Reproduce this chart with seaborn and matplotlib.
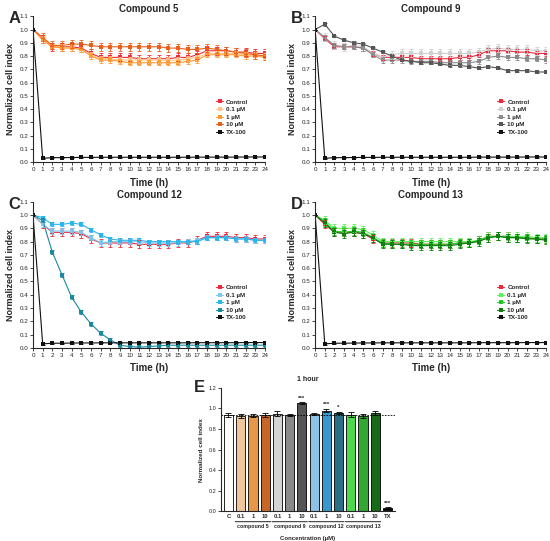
"""Normalized cell index over time for four compounds plus 1 h bar summary."""
import numpy as np
import pandas as pd
import seaborn as sns

from matplotlib import pyplot as plt


HOURS = list(range(25))
SERIES = ["Control", "0.1 \u00b5M", "1 \u00b5M", "10 \u00b5M", "TX-100"]

CONTROL = [1.0, 0.93, 0.87, 0.87, 0.87, 0.86, 0.82, 0.79, 0.79, 0.79, 0.79, 0.78, 0.78,
           0.78, 0.78, 0.79, 0.79, 0.81, 0.84, 0.84, 0.84, 0.83, 0.83, 0.82, 0.82]
TX100 = [1.0, 0.03, 0.035, 0.035, 0.036, 0.037, 0.037, 0.038, 0.038, 0.038, 0.038, 0.038, 0.038,
         0.038, 0.038, 0.038, 0.038, 0.039, 0.039, 0.039, 0.039, 0.039, 0.04, 0.04, 0.04]

# compound 5
C5_01 = [1.0, 0.93, 0.87, 0.87, 0.86, 0.85, 0.81, 0.78, 0.78, 0.77, 0.77, 0.77, 0.77,
         0.77, 0.77, 0.77, 0.78, 0.79, 0.82, 0.82, 0.82, 0.82, 0.81, 0.81, 0.80]
C5_1 = [1.0, 0.92, 0.87, 0.86, 0.86, 0.85, 0.80, 0.77, 0.77, 0.76, 0.75, 0.75, 0.75,
        0.75, 0.75, 0.75, 0.76, 0.77, 0.81, 0.81, 0.81, 0.81, 0.80, 0.80, 0.79]
C5_10 = [1.0, 0.94, 0.88, 0.88, 0.89, 0.89, 0.88, 0.87, 0.87, 0.87, 0.87, 0.87, 0.87,
         0.87, 0.86, 0.86, 0.85, 0.85, 0.86, 0.85, 0.84, 0.83, 0.82, 0.81, 0.80]
# compound 9
C9_01 = [1.0, 0.94, 0.88, 0.87, 0.88, 0.87, 0.82, 0.79, 0.81, 0.82, 0.82, 0.82, 0.82,
         0.82, 0.82, 0.82, 0.82, 0.83, 0.85, 0.86, 0.85, 0.85, 0.85, 0.84, 0.84]
C9_1 = [1.0, 0.94, 0.88, 0.87, 0.87, 0.86, 0.81, 0.77, 0.77, 0.77, 0.76, 0.76, 0.76,
        0.75, 0.75, 0.75, 0.75, 0.76, 0.79, 0.80, 0.79, 0.79, 0.78, 0.78, 0.77]
C9_10 = [1.0, 1.04, 0.95, 0.92, 0.90, 0.89, 0.86, 0.83, 0.80, 0.77, 0.76, 0.75, 0.75,
         0.74, 0.73, 0.73, 0.72, 0.71, 0.72, 0.71, 0.69, 0.69, 0.69, 0.68, 0.68]
# compound 12
C12_01 = [1.0, 0.93, 0.88, 0.88, 0.88, 0.87, 0.83, 0.79, 0.80, 0.80, 0.80, 0.80, 0.79,
          0.79, 0.79, 0.79, 0.80, 0.81, 0.83, 0.83, 0.83, 0.82, 0.82, 0.81, 0.81]
C12_1 = [1.0, 0.98, 0.93, 0.93, 0.94, 0.93, 0.89, 0.85, 0.82, 0.81, 0.81, 0.81, 0.80,
         0.80, 0.80, 0.80, 0.80, 0.80, 0.83, 0.83, 0.83, 0.82, 0.82, 0.81, 0.81]
C12_10 = [1.0, 0.96, 0.72, 0.55, 0.38, 0.27, 0.18, 0.11, 0.06, 0.02, 0.01, 0.005, 0.01,
          0.015, 0.02, 0.02, 0.02, 0.02, 0.02, 0.02, 0.02, 0.02, 0.02, 0.02, 0.02]
# compound 13
C13_01 = [1.0, 0.96, 0.90, 0.90, 0.90, 0.89, 0.85, 0.80, 0.80, 0.80, 0.80, 0.80, 0.80,
          0.80, 0.80, 0.80, 0.80, 0.81, 0.84, 0.84, 0.84, 0.84, 0.84, 0.83, 0.83]
C13_1 = [1.0, 0.95, 0.88, 0.87, 0.88, 0.87, 0.83, 0.79, 0.78, 0.78, 0.78, 0.78, 0.78,
         0.78, 0.78, 0.79, 0.79, 0.81, 0.83, 0.84, 0.83, 0.83, 0.83, 0.82, 0.82]
C13_10 = [1.0, 0.94, 0.87, 0.86, 0.87, 0.86, 0.83, 0.78, 0.78, 0.78, 0.77, 0.77, 0.77,
          0.77, 0.77, 0.78, 0.79, 0.80, 0.83, 0.84, 0.83, 0.83, 0.82, 0.82, 0.81]

# typical SD per series (Control, 0.1, 1, 10, TX-100)
SD_5 = [0.03, 0.02, 0.02, 0.03, 0.005]
SD_9 = [0.02, 0.03, 0.02, 0.01, 0.005]
SD_12 = [0.03, 0.02, 0.015, 0.015, 0.005]
SD_13 = [0.03, 0.03, 0.03, 0.03, 0.005]

# bar panel (1 hour)
BAR_LABELS = ["C", "0.1", "1", "10", "0.1", "1", "10", "0.1", "1", "10",
              "0.1", "1", "10", "TX"]
BAR_VALUES = [0.935, 0.925, 0.93, 0.935, 0.95, 0.94, 1.05, 0.945, 0.98, 0.96,
              0.94, 0.93, 0.955, 0.03]
BAR_SD = [0.02, 0.02, 0.015, 0.02, 0.025, 0.01, 0.008, 0.01, 0.015, 0.01,
          0.025, 0.02, 0.02, 0.01]
BAR_STARS = ["", "", "", "", "", "", "***", "", "***", "*", "", "", "", "***"]
GROUPS = ["compound 5", "compound 9", "compound 12", "compound 13"]

PANELS = [
    ("A", "Compound 5", [CONTROL, C5_01, C5_1, C5_10, TX100], SD_5,
     ["#f0283c", "#ffc58a", "#ff9a2e", "#e8601a", "#111111"]),
    ("B", "Compound 9", [CONTROL, C9_01, C9_1, C9_10, TX100], SD_9,
     ["#f0283c", "#cfcfcf", "#8a8a8a", "#555555", "#111111"]),
    ("C", "Compound 12", [CONTROL, C12_01, C12_1, C12_10, TX100], SD_12,
     ["#f0283c", "#7fc8f0", "#29b6ef", "#1a8aa0", "#111111"]),
    ("D", "Compound 13", [CONTROL, C13_01, C13_1, C13_10, TX100], SD_13,
     ["#f0283c", "#5cf05c", "#22c822", "#0c7a0c", "#111111"]),
]
BAR_COLORS = ["#ffffff", "#ffc58a", "#ff9a2e", "#e0600f", "#d4d4d4", "#8a8a8a",
              "#555555", "#7fc3f5", "#1e9de8", "#1a7894", "#33f033", "#1fba1f",
              "#0b760b", "#111111"]

sns.set_style("ticks")
plt.rcParams["font.family"] = ["Liberation Sans", "DejaVu Sans"]
plt.rcParams["axes.linewidth"] = 0.8

fig = plt.figure(figsize=(5.5, 5.41), dpi=100)

positions = {
    "A": [0.06, 0.700, 0.422, 0.270],
    "B": [0.573, 0.700, 0.420, 0.270],
    "C": [0.06, 0.357, 0.422, 0.270],
    "D": [0.573, 0.357, 0.420, 0.270],
}

for letter, title, series, sds, colors in PANELS:
    ax = fig.add_axes(positions[letter])
    rows = []
    for name, vals in zip(SERIES, series):
        for t, v in zip(HOURS, vals):
            rows.append({"time": t, "value": v, "series": name})
    df = pd.DataFrame(rows)
    sns.lineplot(data=df, x="time", y="value", hue="series", palette=colors,
                 marker="s", markersize=2.2, markeredgewidth=0, linewidth=0.8,
                 ax=ax)
    for vals, sd, col in zip(series, sds, colors):
        err = [0.0] + [sd] * (len(vals) - 1)
        ax.errorbar(HOURS, vals, yerr=err, fmt="none", ecolor=col,
                    elinewidth=0.6, capsize=1.5, capthick=0.6)
    ax.set_xlim(0, 24)
    ax.set_ylim(0, 1.1)
    ax.set_xticks(HOURS)
    ax.set_yticks(np.arange(0, 1.11, 0.1))
    ax.set_yticklabels([f"{v:.1f}" for v in np.arange(0, 1.11, 0.1)])
    ax.tick_params(labelsize=4.5, length=2, width=0.6, pad=1.5)
    ax.set_xlabel("Time (h)", fontsize=7, fontweight="bold", labelpad=4)
    ax.set_ylabel("Normalized cell index", fontsize=6.5, fontweight="bold",
                  labelpad=3)
    ax.set_title(title, fontsize=7, fontweight="bold", pad=3)
    ax.legend(loc="center left", bbox_to_anchor=(0.765, 0.31), frameon=False,
              handlelength=1.1, handletextpad=0.5,
              labelspacing=0.35, prop={"size": 4.5, "weight": "bold"})
    sns.despine(ax=ax)
    bb = positions[letter]
    fig.text(bb[0] - 0.045, bb[1] + bb[3] - 0.005, letter, fontsize=12,
             fontweight="bold", ha="left", va="center")

# panel E
axe = fig.add_axes([0.402, 0.055, 0.316, 0.228])
bar_df = pd.DataFrame({"pos": range(len(BAR_VALUES)), "value": BAR_VALUES})
sns.barplot(data=bar_df, x="pos", y="value", hue="pos", palette=BAR_COLORS,
            edgecolor="black", linewidth=0.6, width=0.75, legend=False, ax=axe)
axe.errorbar(range(len(BAR_VALUES)), BAR_VALUES, yerr=BAR_SD, fmt="none",
             ecolor="black", elinewidth=0.6, capsize=2, capthick=0.6)
for i, (v, sd, s) in enumerate(zip(BAR_VALUES, BAR_SD, BAR_STARS)):
    if s:
        axe.text(i, v + sd + 0.015, s, ha="center", va="bottom", fontsize=4.5,
                 fontweight="bold")
axe.axhline(BAR_VALUES[0], color="black", linestyle=(0, (2, 1.5)),
            linewidth=0.6)
axe.set_xlim(-0.6, len(BAR_VALUES) - 0.4)
axe.set_ylim(0, 1.2)
axe.set_yticks(np.arange(0, 1.21, 0.2))
axe.set_yticklabels([f"{v:.1f}" for v in np.arange(0, 1.21, 0.2)])
axe.set_xticks(range(len(BAR_LABELS)))
axe.set_xticklabels(BAR_LABELS, fontweight="bold")
axe.tick_params(axis="y", labelsize=4, length=2, width=0.6, pad=1.5)
axe.tick_params(axis="x", labelsize=4.2, length=0, pad=2)
axe.set_ylabel("Normalized cell index", fontsize=4.5, fontweight="bold",
               labelpad=3)
axe.set_xlabel("Concentration (\u00b5M)", fontsize=4.3, fontweight="bold",
               labelpad=12)
axe.set_title("1 hour", fontsize=5, fontweight="bold", pad=5)
sns.despine(ax=axe)
for g, name in enumerate(GROUPS):
    lo, hi = 1 + 3 * g - 0.45, 3 + 3 * g + 0.45
    axe.annotate("", xy=(lo, -0.085), xytext=(hi, -0.085),
                 xycoords=("data", "axes fraction"),
                 arrowprops=dict(arrowstyle="-", linewidth=0.6, color="black",
                                 shrinkA=0, shrinkB=0))
    axe.text((lo + hi) / 2, -0.1, name, transform=axe.get_xaxis_transform(),
             ha="center", va="top", fontsize=3.8, fontweight="bold")
fig.text(0.352, 0.283, "E", fontsize=12, fontweight="bold", ha="left",
         va="center")

fig.savefig("out.png", dpi=100, facecolor="w")
